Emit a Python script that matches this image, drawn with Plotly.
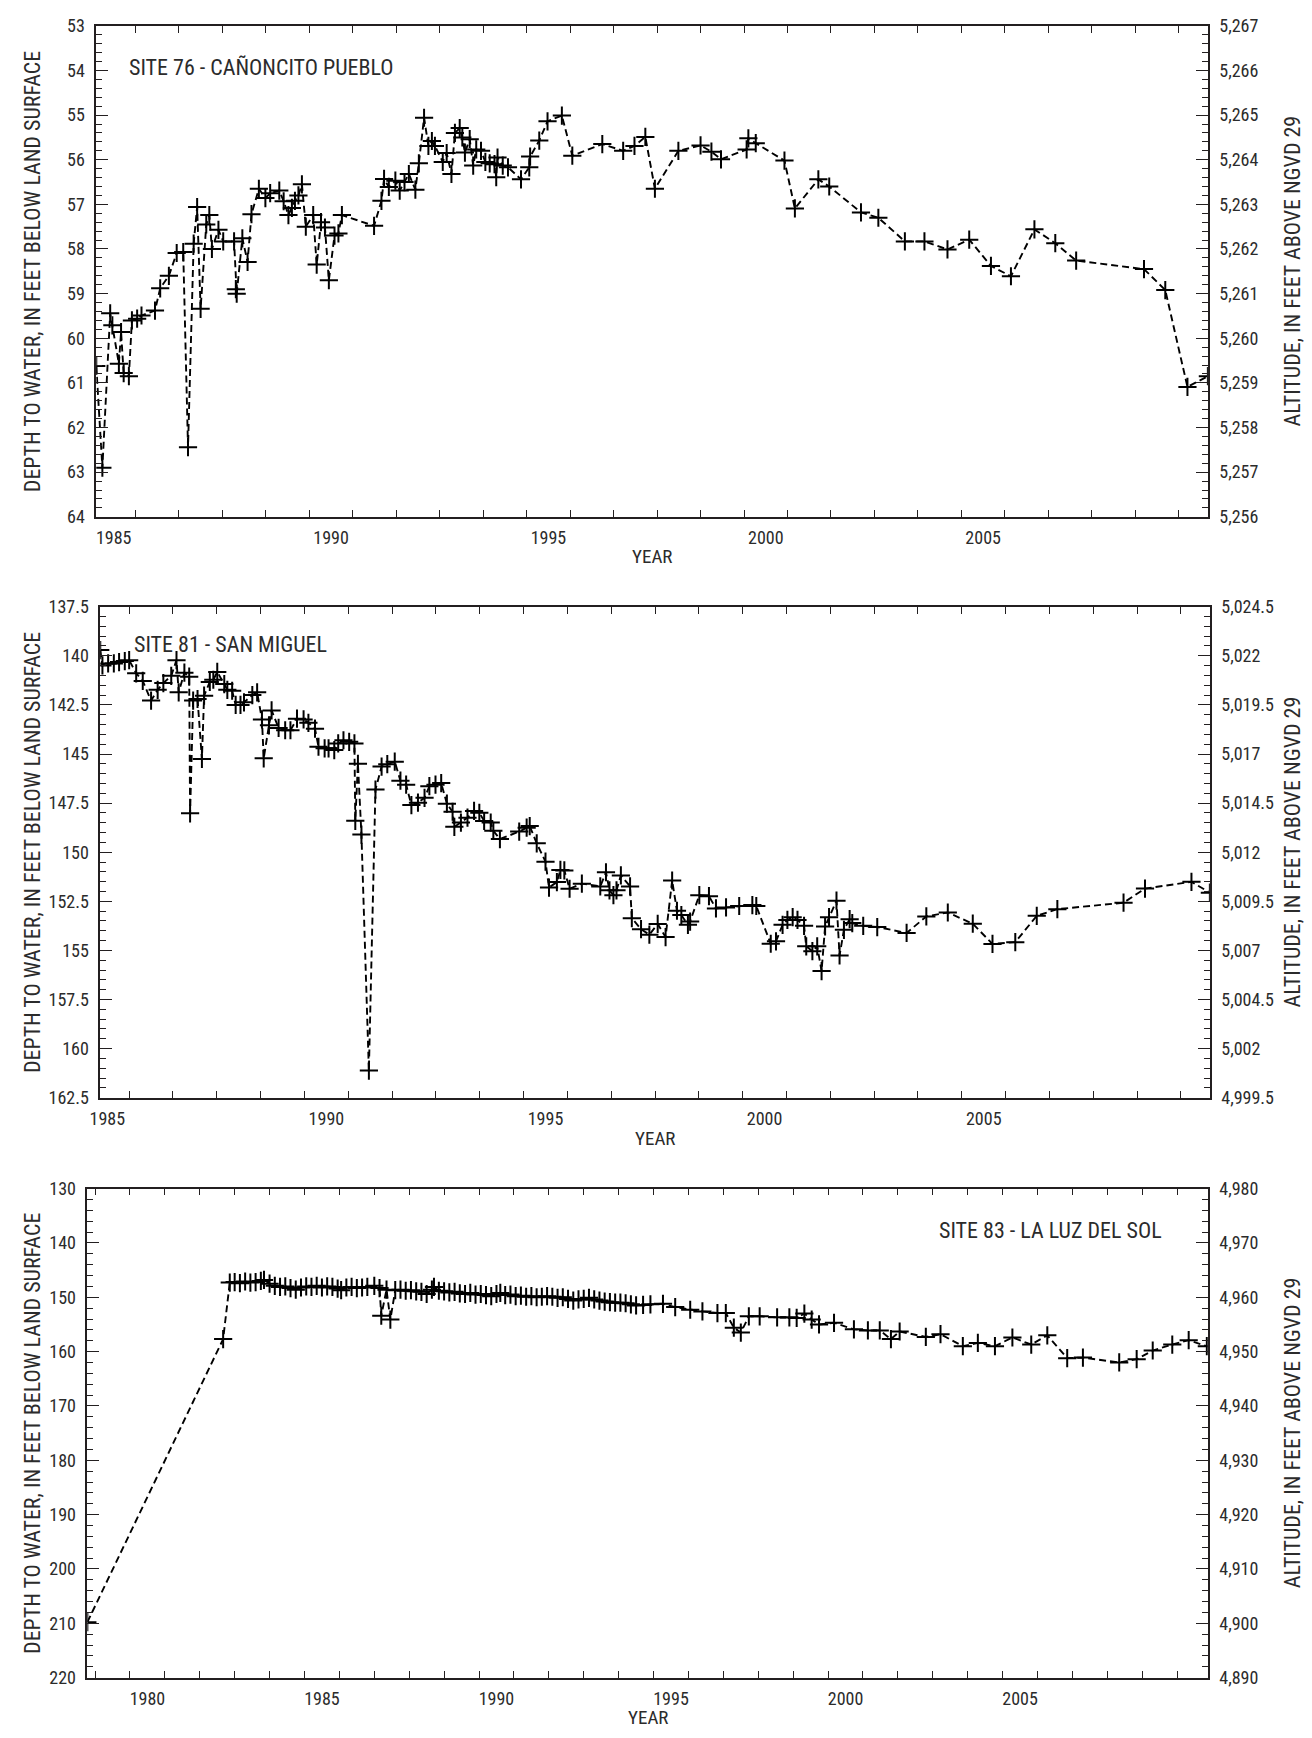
import plotly.graph_objects as go

# ---------------- DATA ----------------
# Site 76 - Cañoncito Pueblo (decimal year, depth to water ft)
s76_year = [1985.10, 1985.24, 1985.42, 1985.47, 1985.62, 1985.67, 1985.73, 1985.85, 1985.92, 1986.04,
            1986.14, 1986.45, 1986.57, 1986.77, 1986.95, 1987.10, 1987.21, 1987.34, 1987.42, 1987.50,
            1987.63, 1987.70, 1987.76, 1987.91, 1988.02, 1988.27, 1988.31, 1988.33, 1988.46, 1988.58,
            1988.67, 1988.84, 1988.99, 1989.10, 1989.31, 1989.41, 1989.52, 1989.60, 1989.67, 1989.75,
            1989.83, 1989.92, 1990.09, 1990.17, 1990.27, 1990.36, 1990.45, 1990.58, 1990.67, 1990.75,
            1991.49, 1991.66, 1991.72, 1991.83, 1991.98, 1992.08, 1992.19, 1992.29, 1992.44, 1992.52,
            1992.64, 1992.74, 1992.82, 1992.89, 1993.07, 1993.16, 1993.27, 1993.35, 1993.46, 1993.52,
            1993.58, 1993.69, 1993.77, 1993.84, 1993.95, 1994.05, 1994.15, 1994.26, 1994.30, 1994.33,
            1994.45, 1994.57, 1994.87, 1995.06, 1995.08, 1995.29, 1995.48, 1995.81, 1996.05, 1996.74,
            1997.22, 1997.48, 1997.73, 1997.95, 1998.49, 1999.00, 1999.25, 1999.47, 2000.06, 2000.10,
            2000.27, 2000.93, 2001.17, 2001.71, 2001.96, 2002.69, 2003.09, 2003.70, 2004.15, 2004.68,
            2005.18, 2005.68, 2006.14, 2006.68, 2007.16, 2007.64, 2009.20, 2009.69, 2010.20, 2010.67]
s76_depth = [60.62, 62.90, 59.44, 59.71, 60.57, 59.86, 60.78, 60.85, 59.60, 59.56,
             59.49, 59.38, 58.88, 58.60, 58.09, 58.07, 62.44, 57.88, 57.06, 59.34,
             57.45, 57.24, 58.00, 57.57, 57.83, 57.83, 58.90, 59.00, 57.76, 58.29,
             57.22, 56.65, 56.86, 56.75, 56.69, 56.93, 57.24, 57.08, 56.92, 56.80,
             56.55, 57.50, 57.24, 58.35, 57.40, 57.52, 58.70, 57.70, 57.65, 57.24,
             57.48, 56.92, 56.43, 56.61, 56.47, 56.69, 56.50, 56.32, 56.67, 56.08,
             55.06, 55.69, 55.58, 55.69, 56.05, 55.85, 56.32, 55.40, 55.29, 55.50,
             55.84, 55.54, 56.13, 55.77, 55.80, 56.05, 56.08, 56.10, 56.39, 55.95,
             56.13, 56.17, 56.44, 56.17, 55.93, 55.57, 55.14, 55.01, 55.91, 55.65,
             55.80, 55.69, 55.49, 56.65, 55.80, 55.68, 55.82, 55.99, 55.77, 55.52,
             55.63, 56.02, 57.09, 56.44, 56.60, 57.18, 57.30, 57.83, 57.83, 58.01,
             57.79, 58.38, 58.61, 57.56, 57.87, 58.26, 58.45, 58.92, 61.09, 60.85]
s76_land = 5320.0

# Site 81 - San Miguel
s81_year = [1985.34, 1985.39, 1985.52, 1985.65, 1985.77, 1985.90, 1986.00, 1986.16, 1986.31, 1986.50,
            1986.65, 1986.78, 1986.96, 1987.08, 1987.13, 1987.26, 1987.37, 1987.39, 1987.46, 1987.56,
            1987.66, 1987.71, 1987.84, 1987.92, 1988.01, 1988.17, 1988.24, 1988.35, 1988.43, 1988.54,
            1988.62, 1988.81, 1988.92, 1989.03, 1989.07, 1989.19, 1989.25, 1989.41, 1989.56, 1989.68,
            1989.83, 1989.98, 1990.09, 1990.24, 1990.32, 1990.46, 1990.55, 1990.68, 1990.77, 1990.89,
            1991.02, 1991.14, 1991.16, 1991.22, 1991.30, 1991.47, 1991.62, 1991.76, 1991.89, 1992.06,
            1992.19, 1992.32, 1992.44, 1992.59, 1992.74, 1992.85, 1992.99, 1993.12, 1993.25, 1993.38,
            1993.42, 1993.57, 1993.72, 1993.87, 1993.99, 1994.10, 1994.25, 1994.31, 1994.46, 1994.90,
            1995.07, 1995.14, 1995.30, 1995.50, 1995.58, 1995.76, 1995.84, 1995.93, 1996.05, 1996.33,
            1996.75, 1996.88, 1996.96, 1997.05, 1997.12, 1997.22, 1997.43, 1997.47, 1997.68, 1997.87,
            1998.06, 1998.24, 1998.39, 1998.50, 1998.60, 1998.75, 1998.80, 1999.01, 1999.23, 1999.39,
            1999.62, 1999.92, 2000.22, 2000.31, 2000.64, 2000.76, 2000.91, 2001.02, 2001.14, 2001.25,
            2001.40, 2001.45, 2001.59, 2001.70, 2001.80, 2001.88, 2001.97, 2002.14, 2002.21, 2002.31,
            2002.44, 2002.50, 2002.75, 2003.07, 2003.74, 2004.19, 2004.68, 2005.25, 2005.70, 2006.22,
            2006.71, 2007.18, 2008.69, 2009.18, 2010.24, 2010.66]
s81_depth = [139.71, 140.49, 140.39, 140.39, 140.32, 140.27, 140.22, 140.89, 141.28, 142.28,
             141.73, 141.39, 141.02, 140.22, 141.86, 140.86, 141.06, 148.02, 142.28, 142.20,
             145.25, 142.03, 141.33, 141.22, 140.82, 141.44, 141.73, 141.78, 142.50, 142.50,
             142.37, 142.00, 141.86, 143.24, 145.22, 143.54, 142.78, 143.67, 143.79, 143.79,
             143.20, 143.24, 143.41, 143.71, 144.63, 144.71, 144.71, 144.80, 144.46, 144.30,
             144.38, 144.46, 148.40, 145.50, 149.10, 161.12, 146.81, 145.64, 145.52, 145.39,
             146.36, 146.56, 147.60, 147.48, 147.23, 146.64, 146.56, 146.48, 147.53, 147.94,
             148.71, 148.49, 148.24, 147.90, 147.99, 148.41, 148.49, 148.91, 149.33, 148.95,
             148.75, 148.67, 149.55, 150.48, 151.80, 151.52, 150.90, 150.93, 151.86, 151.60,
             151.74, 151.02, 151.94, 152.19, 151.94, 151.18, 151.74, 153.36, 153.92, 154.20,
             153.65, 154.32, 151.44, 152.98, 153.20, 153.70, 153.53, 152.19, 152.24, 152.86,
             152.81, 152.74, 152.69, 152.74, 154.66, 154.54, 153.70, 153.45, 153.31, 153.45,
             153.75, 154.79, 155.04, 154.79, 156.05, 153.78, 153.31, 152.47, 155.26, 153.95,
             153.41, 153.61, 153.75, 153.81, 154.11, 153.27, 153.07, 153.64, 154.67, 154.58,
             153.24, 152.90, 152.57, 151.85, 151.51, 152.06]
s81_land = 5162.0

# Site 83 - La Luz del Sol
s83_year = [1978.78, 1982.67, 1982.86, 1983.00, 1983.15, 1983.30, 1983.45, 1983.60, 1983.75, 1983.84,
            1984.00, 1984.15, 1984.30, 1984.45, 1984.60, 1984.75, 1984.90, 1985.05, 1985.20, 1985.35,
            1985.50, 1985.65, 1985.80, 1985.95, 1986.05, 1986.20, 1986.35, 1986.50, 1986.65, 1986.80,
            1987.00, 1987.15, 1987.20, 1987.35, 1987.46, 1987.60, 1987.75, 1987.90, 1988.05, 1988.20,
            1988.35, 1988.50, 1988.65, 1988.71, 1988.85, 1989.00, 1989.15, 1989.30, 1989.45, 1989.60,
            1989.75, 1989.90, 1990.05, 1990.20, 1990.35, 1990.50, 1990.61, 1990.75, 1990.90, 1991.05,
            1991.20, 1991.35, 1991.50, 1991.65, 1991.80, 1991.95, 1992.10, 1992.25, 1992.40, 1992.55,
            1992.70, 1992.85, 1993.00, 1993.15, 1993.30, 1993.45, 1993.60, 1993.75, 1993.90, 1994.05,
            1994.20, 1994.35, 1994.50, 1994.70, 1994.91, 1995.27, 1995.62, 1996.05, 1996.40, 1996.83,
            1997.07, 1997.30, 1997.50, 1997.73, 1998.04, 1998.54, 1998.89, 1999.10, 1999.32, 1999.53,
            1999.74, 2000.17, 2000.74, 2001.14, 2001.48, 2001.80, 2002.05, 2002.80, 2003.22, 2003.86,
            2004.29, 2004.78, 2005.28, 2005.82, 2006.28, 2006.85, 2007.30, 2008.34, 2008.84, 2009.30,
            2009.86, 2010.33, 2010.85]
s83_depth = [209.8, 157.7, 147.3, 147.2, 147.4, 147.1, 147.3, 147.2, 147.0, 146.8,
             147.5, 147.9, 148.1, 148.0, 148.3, 148.6, 148.2, 148.0, 148.1, 147.9,
             148.2, 148.0, 148.1, 148.4, 148.7, 148.2, 148.1, 148.3, 148.2, 148.1,
             147.9, 148.3, 153.4, 148.6, 154.1, 148.7, 148.6, 148.8, 148.7, 148.9,
             149.0, 149.4, 148.6, 148.1, 148.8, 148.9, 149.1, 149.0, 149.3, 149.4,
             149.2, 149.5, 149.4, 149.6, 149.8, 149.4, 149.2, 149.6, 149.5, 149.8,
             149.7, 149.9, 149.8, 150.0, 149.9, 149.8, 149.9, 150.1, 150.0, 150.3,
             150.6, 150.4, 150.3, 150.1, 150.4, 150.6, 150.8, 150.9, 151.0, 151.0,
             151.1, 151.3, 151.5, 151.4, 151.3, 151.2, 151.8, 152.3, 152.6, 152.9,
             152.9, 155.6, 156.5, 153.5, 153.5, 153.7, 153.7, 153.8, 153.0, 154.1,
             155.0, 154.7, 155.9, 156.1, 156.1, 157.7, 156.3, 157.3, 156.8, 159.0,
             158.4, 159.0, 157.4, 158.7, 157.0, 161.2, 161.1, 162.0, 161.4, 159.8,
             158.7, 157.9, 159.0]
s83_land = 5110.0

site_titles = ["SITE 76 - CAÑONCITO PUEBLO", "SITE 81 - SAN MIGUEL", "SITE 83 - LA LUZ DEL SOL"]
x_ranges = [[1985.10, 2010.67], [1985.34, 2010.66], [1978.78, 2010.88]]
label_years = [[1985, 1990, 1995, 2000, 2005], [1985, 1990, 1995, 2000, 2005],
               [1980, 1985, 1990, 1995, 2000, 2005]]
depth_ranges = [[64, 53], [162.5, 137.5], [220, 130]]
depth_dtick = [1, 2.5, 10]
depth_minor = [0.2, 0.5, 2]

# ---------------- STYLE / LAYOUT ----------------
W, H = 1312, 1738
FONT = "Roboto Condensed, Liberation Sans Narrow, Arial Narrow, DejaVu Sans Condensed, sans-serif"
TXT = "#2b2b2b"
AX = "#231f20"
TICKSZ = 18
TITLESZ = 22
frames = [  # left, right, top, bottom in pixels
    (86, 1207, 15, 512),
    (90, 1209, 603, 1100),
    (77, 1207, 1192, 1687),
]

fig = go.Figure()
series = [(s76_year, s76_depth, s76_land), (s81_year, s81_depth, s81_land), (s83_year, s83_depth, s83_land)]

layout = dict(width=W, height=H, autosize=False, margin=dict(l=0, r=0, t=0, b=0),
              paper_bgcolor="white", plot_bgcolor="white", showlegend=False,
              font=dict(family=FONT, color=TXT, size=TICKSZ))
annotations = []

for i, (yrs, dep, land) in enumerate(series):
    n = i + 1
    xa = "x" if n == 1 else f"x{n}"
    yl_idx = 2 * i + 1
    yr_idx = 2 * i + 2
    yl = "y" if yl_idx == 1 else f"y{yl_idx}"
    yr = f"y{yr_idx}"
    fig.add_trace(go.Scatter(x=yrs, y=dep, xaxis=xa, yaxis=yl, mode="lines+markers",
                             line=dict(color="black", width=1.9, dash="7px,4px"),
                             marker=dict(symbol="cross-thin-open", size=13,
                                         line=dict(color="black", width=2)),
                             hoverinfo="x+y"))
    alt = [land - d for d in dep]
    fig.add_trace(go.Scatter(x=yrs, y=alt, xaxis=xa, yaxis=yr, mode="lines",
                             line=dict(width=0), opacity=0, hoverinfo="skip"))

    L, R, T, B = frames[i]
    xd = [L / W, R / W]
    yd = [1 - B / H, 1 - T / H]
    lab = label_years[i]
    x0 = int(x_ranges[i][0]) + 1
    x1 = int(x_ranges[i][1])
    layout["xaxis" if n == 1 else f"xaxis{n}"] = dict(
        domain=xd, anchor=yl, range=x_ranges[i],
        tickmode="array", tickvals=[y + 0.5 for y in lab], ticktext=[str(y) for y in lab],
        ticks="inside", ticklen=0, showgrid=False, zeroline=False,
        showline=True, linecolor=AX, linewidth=1.6, mirror="ticks",
        tickfont=dict(size=TICKSZ, color=TXT, family=FONT), ticklabelstandoff=4,
        minor=dict(tickmode="array", tickvals=list(range(x0, x1 + 1)), ticks="inside",
                   ticklen=7, tickwidth=1.4, tickcolor=AX, showgrid=False),
    )
    lo, hi = sorted(depth_ranges[i])
    layout["yaxis" if yl_idx == 1 else f"yaxis{yl_idx}"] = dict(
        domain=yd, anchor=xa, range=depth_ranges[i],
        tickmode="linear", tick0=lo, dtick=depth_dtick[i],
        ticks="inside", ticklen=12, tickwidth=1.4, tickcolor=AX,
        showline=True, linecolor=AX, linewidth=1.6, mirror=False,
        showgrid=False, zeroline=False,
        tickfont=dict(size=TICKSZ, color=TXT, family=FONT), ticklabelstandoff=6,
        minor=dict(tickmode="linear", tick0=lo, dtick=depth_minor[i], ticks="inside",
                   ticklen=6, tickwidth=1.2, tickcolor=AX, showgrid=False),
    )
    alt_range = [land - depth_ranges[i][0], land - depth_ranges[i][1]]
    layout[f"yaxis{yr_idx}"] = dict(
        domain=yd, anchor=xa, overlaying=yl, side="right", range=alt_range,
        tickmode="linear", tick0=alt_range[0], dtick=depth_dtick[i], tickformat=",",
        ticks="inside", ticklen=12, tickwidth=1.4, tickcolor=AX,
        showline=True, linecolor=AX, linewidth=1.6,
        showgrid=False, zeroline=False,
        tickfont=dict(size=TICKSZ, color=TXT, family=FONT), ticklabelstandoff=6,
        minor=dict(tickmode="linear", tick0=alt_range[0], dtick=depth_minor[i], ticks="inside",
                   ticklen=6, tickwidth=1.2, tickcolor=AX, showgrid=False),
    )

    ymid = 1 - (T + B) / 2 / H
    annotations.append(dict(text="DEPTH TO WATER, IN FEET BELOW LAND SURFACE", xref="paper", yref="paper",
                            x=21 / W, y=ymid, textangle=-90, showarrow=False,
                            xanchor="center", yanchor="middle", font=dict(size=TITLESZ, color=TXT, family=FONT)))
    annotations.append(dict(text="ALTITUDE, IN FEET ABOVE NGVD 29", xref="paper", yref="paper",
                            x=1292 / W, y=ymid, textangle=-90, showarrow=False,
                            xanchor="center", yanchor="middle", font=dict(size=TITLESZ, color=TXT, family=FONT)))

# YEAR titles
for (L, R, T, B), yy in zip(frames, [552, 1141, 1727]):
    annotations.append(dict(text="YEAR", xref="paper", yref="paper", x=(L + R) / 2 / W, y=1 - yy / H,
                            showarrow=False, xanchor="center", yanchor="middle",
                            font=dict(size=19, color=TXT, family=FONT)))

# Site titles
annotations.append(dict(text=site_titles[0], xref="paper", yref="paper", x=117 / W, y=1 - 57 / H,
                        showarrow=False, xanchor="left", yanchor="middle",
                        font=dict(size=22, color=TXT, family=FONT)))
annotations.append(dict(text=site_titles[1], xref="paper", yref="paper", x=122 / W, y=1 - 641 / H,
                        showarrow=False, xanchor="left", yanchor="middle",
                        font=dict(size=22, color=TXT, family=FONT)))
annotations.append(dict(text=site_titles[2], xref="paper", yref="paper", x=1163 / W, y=1 - 1234 / H,
                        showarrow=False, xanchor="right", yanchor="middle",
                        font=dict(size=22, color=TXT, family=FONT)))

layout["annotations"] = annotations
fig.update_layout(**layout)
fig.write_html("out.html", config={"displayModeBar": False},
               post_script="document.body.style.margin='0';document.body.style.padding='0';"
                           "document.documentElement.style.overflow='hidden';")
